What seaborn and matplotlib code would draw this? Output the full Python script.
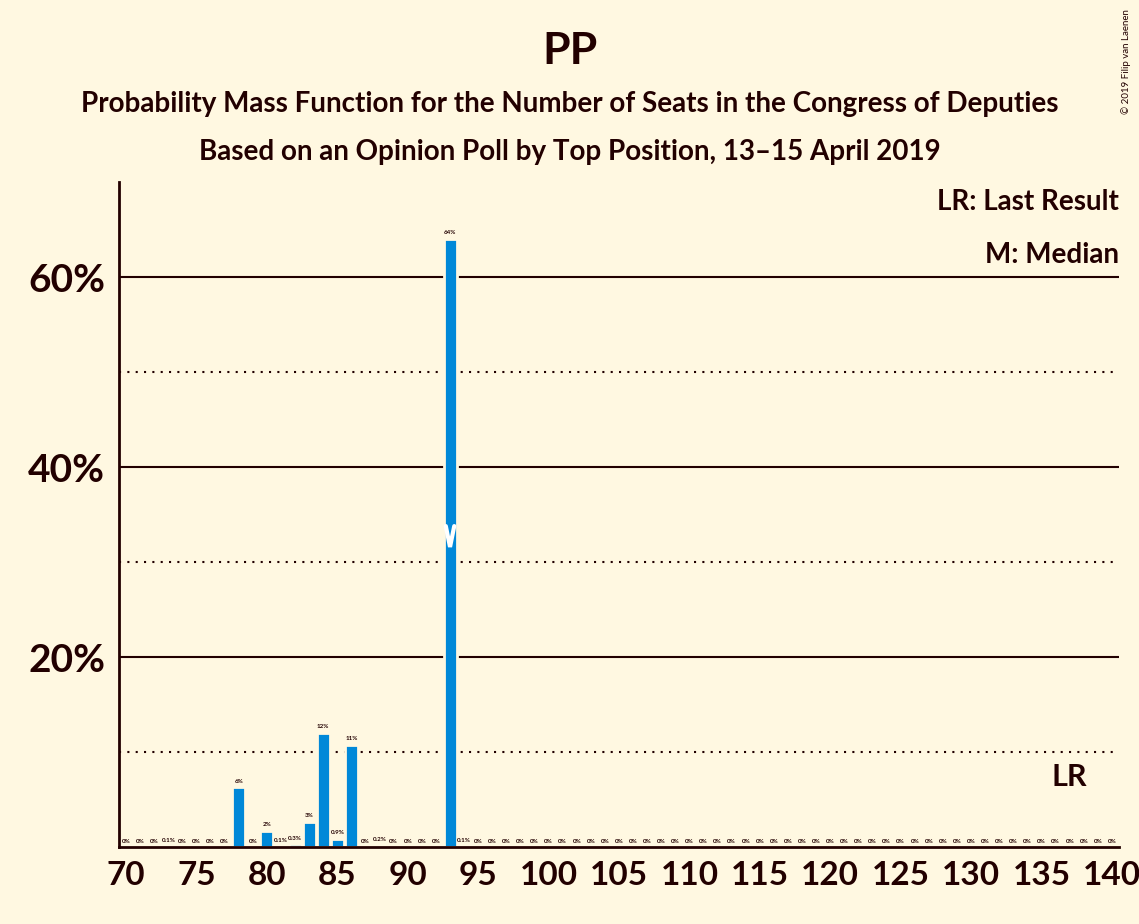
import numpy as np
import pandas as pd
import matplotlib
matplotlib.use("Agg")
import matplotlib.pyplot as plt
import seaborn as sns

# Data
seats = list(range(70, 141))
probs = [0, 0, 0, 0.1, 0, 0, 0, 0, 6.3, 0, 1.7, 0.1, 0.3, 2.7, 12.0, 0.9, 10.8, 0, 0.2, 0, 0, 0, 0, 64.0, 0.1] + [0] * 46
labels = ["0%", "0%", "0%", "0.1%", "0%", "0%", "0%", "0%", "6%", "0%", "2%", "0.1%", "0.3%", "3%", "12%", "0.9%", "11%", "0%", "0.2%", "0%", "0%", "0%", "0%", "64%", "0.1%"] + ["0%"] * 46
median_seat = 93
last_result = 137

bg = "#FFF8E1"
blue = "#0088D8"
dark = "#220000"

sns.set_style("white")
plt.rcParams["font.family"] = ["Lato", "DejaVu Sans"]
plt.rcParams["font.weight"] = "bold"

df = pd.DataFrame({"seats": seats, "p": probs})

fig = plt.figure(figsize=(11.39, 9.24), dpi=100, facecolor=bg)
ax = fig.add_axes([0.1045, 0.083, 0.878, 0.72])
ax.set_facecolor(bg)

for y in [10, 30, 50]:
    ax.axhline(y, color=dark, ls=(0, (1, 3)), lw=1.5, zorder=0)
for y in [20, 40, 60]:
    ax.axhline(y, color=dark, ls="-", lw=1.5, zorder=0)

ax.bar(df["seats"], df["p"], width=0.92, color=blue, edgecolor=bg, linewidth=2, zorder=2)

for s, p, lab in zip(seats, probs, labels):
    ax.text(s, p + 0.4, lab, ha="center", va="bottom", fontsize=4.5, color=dark, zorder=3)

# median marker
ax.plot([median_seat - 0.3, median_seat, median_seat + 0.3], [33.8, 31.6, 33.8], color="white", lw=3, zorder=4,
        solid_joinstyle="miter")
ax.text(last_result, 7.4, "LR", ha="center", va="center", fontsize=22, color=dark)

ax.set_xlim(69.5, 140.5)
ax.set_ylim(0, 70)
ax.set_xticks(range(70, 141, 5))
ax.set_xticklabels([str(x) for x in range(70, 141, 5)], fontsize=24, fontweight="bold", color=dark)
ax.set_yticks([20, 40, 60])
ax.set_yticklabels(["20%", "40%", "60%"], fontsize=28, fontweight="bold", color=dark)
ax.tick_params(axis="both", length=0, pad=10)
for side in ["top", "right"]:
    ax.spines[side].set_visible(False)
for side in ["left", "bottom"]:
    ax.spines[side].set_color(dark)
    ax.spines[side].set_linewidth(2)

ax.text(1.0, 0.99, "LR: Last Result", transform=ax.transAxes, ha="right", va="top", fontsize=20, color=dark)
ax.text(1.0, 0.91, "M: Median", transform=ax.transAxes, ha="right", va="top", fontsize=20, color=dark)

fig.text(0.5, 0.945, "PP", ha="center", va="center", fontsize=32, fontweight="bold", color=dark)
fig.text(0.5, 0.887, "Probability Mass Function for the Number of Seats in the Congress of Deputies",
         ha="center", va="center", fontsize=20, fontweight="bold", color=dark)
fig.text(0.5, 0.835, "Based on an Opinion Poll by Top Position, 13\u201315 April 2019",
         ha="center", va="center", fontsize=20, fontweight="bold", color=dark)
fig.text(0.993, 0.99, "\u00a9 2019 Filip van Laenen", ha="right", va="top", rotation=90, fontsize=7, color=dark, fontweight="normal")

fig.savefig("out.png", dpi=100, facecolor=bg)
